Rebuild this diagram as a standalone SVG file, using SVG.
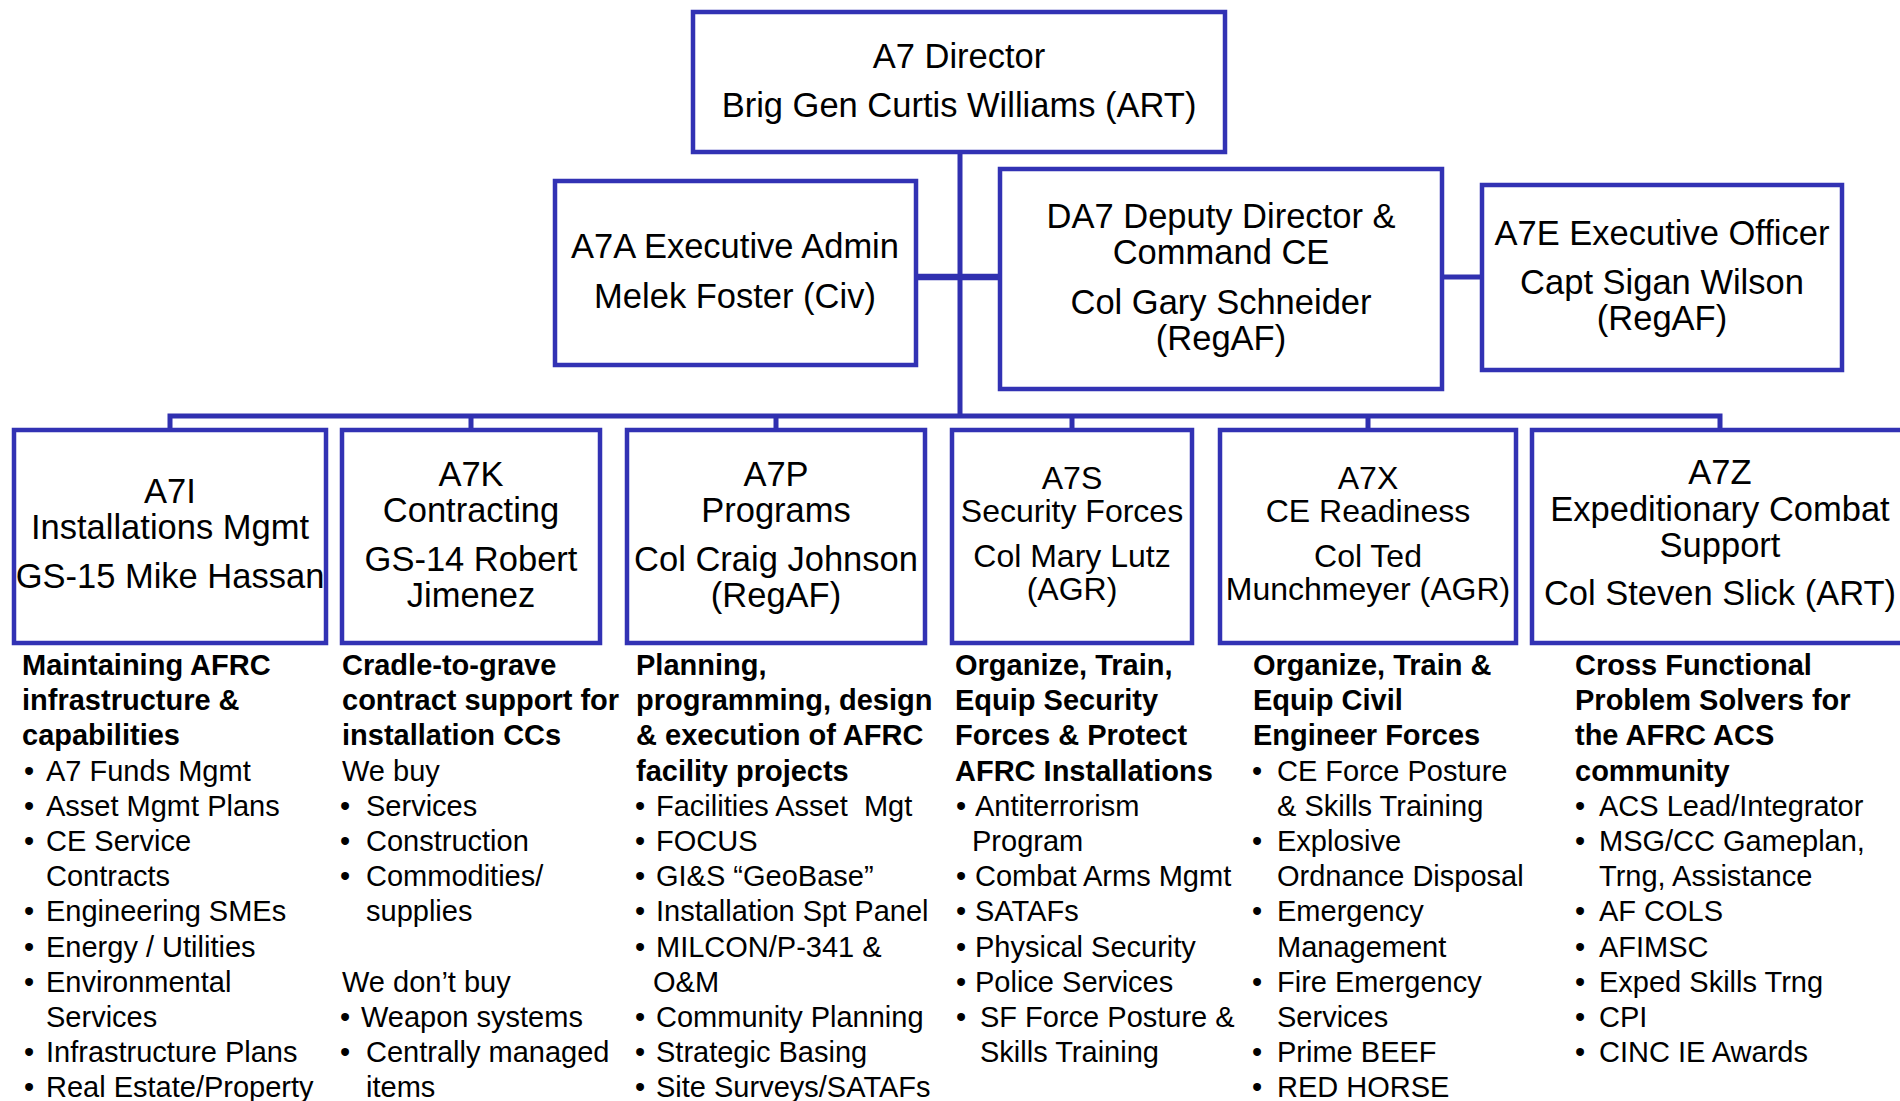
<svg xmlns="http://www.w3.org/2000/svg" width="1900" height="1101" viewBox="0 0 1900 1101">
<style>
.box{fill:#fff;stroke:#3232B4;stroke-width:4.5}
.con{fill:none;stroke:#3030B0;stroke-width:5}
.t{font-family:"Liberation Sans",Arial,sans-serif;font-size:34.5px;fill:#000;text-anchor:middle}
.ts{font-family:"Liberation Sans",Arial,sans-serif;font-size:32px;fill:#000;text-anchor:middle}
.d{font-family:"Liberation Sans",Arial,sans-serif;font-size:29px;fill:#000}
.h{font-weight:bold}
</style>
<rect width="1900" height="1101" fill="#fff"/>
<g id="connectors">
<path class="con" d="M960 152V416"/>
<path class="con" style="stroke-width:6.5" d="M916 277H1000"/>
<path class="con" d="M1442 277H1482"/>
<path class="con" d="M170 430V416H1720V430M471 416V430M776 416V430M1072 416V430M1368 416V430"/>
</g>
<g id="a7-director">
<rect class="box" x="693" y="12" width="532" height="140"/>
<text class="t" x="959" y="68">A7 Director</text>
<text class="t" x="959" y="117">Brig Gen Curtis Williams (ART)</text>
</g>
<g id="a7a">
<rect class="box" x="555" y="181" width="361" height="184"/>
<text class="t" x="735" y="258">A7A Executive Admin</text>
<text class="t" x="735" y="308">Melek Foster (Civ)</text>
</g>
<g id="da7">
<rect class="box" x="1000" y="169" width="442" height="220"/>
<text class="t" x="1221" y="228">DA7 Deputy Director &amp;</text>
<text class="t" x="1221" y="264">Command CE</text>
<text class="t" x="1221" y="314">Col Gary Schneider</text>
<text class="t" x="1221" y="350">(RegAF)</text>
</g>
<g id="a7e">
<rect class="box" x="1482" y="185" width="360" height="185"/>
<text class="t" x="1662" y="245">A7E Executive Officer</text>
<text class="t" x="1662" y="294">Capt Sigan Wilson</text>
<text class="t" x="1662" y="330">(RegAF)</text>
</g>
<g id="a7i">
<rect class="box" x="14" y="430" width="312" height="213"/>
<text class="t" x="170" y="503">A7I</text>
<text class="t" x="170" y="539">Installations Mgmt</text>
<text class="t" x="170" y="588">GS-15 Mike Hassan</text>
<g class="d">
<text class="h" x="22" y="675">Maintaining AFRC</text>
<text class="h" x="22" y="710">infrastructure &amp;</text>
<text class="h" x="22" y="745">capabilities</text>
<text y="781"><tspan x="24">•</tspan><tspan x="46">A7 Funds Mgmt</tspan></text>
<text y="816"><tspan x="24">•</tspan><tspan x="46">Asset Mgmt Plans</tspan></text>
<text y="851"><tspan x="24">•</tspan><tspan x="46">CE Service</tspan></text>
<text x="46" y="886">Contracts</text>
<text y="921"><tspan x="24">•</tspan><tspan x="46">Engineering SMEs</tspan></text>
<text y="957"><tspan x="24">•</tspan><tspan x="46">Energy / Utilities</tspan></text>
<text y="992"><tspan x="24">•</tspan><tspan x="46">Environmental</tspan></text>
<text x="46" y="1027">Services</text>
<text y="1062"><tspan x="24">•</tspan><tspan x="46">Infrastructure Plans</tspan></text>
<text y="1097"><tspan x="24">•</tspan><tspan x="46">Real Estate/Property</tspan></text>
</g>
</g>
<g id="a7k">
<rect class="box" x="342" y="430" width="258" height="213"/>
<text class="t" x="471" y="486">A7K</text>
<text class="t" x="471" y="522">Contracting</text>
<text class="t" x="471" y="571">GS-14 Robert</text>
<text class="t" x="471" y="607">Jimenez</text>
<g class="d">
<text class="h" x="342" y="675">Cradle-to-grave</text>
<text class="h" x="342" y="710">contract support for</text>
<text class="h" x="342" y="745">installation CCs</text>
<text x="342" y="781">We buy</text>
<text y="816"><tspan x="340">•</tspan><tspan x="366">Services</tspan></text>
<text y="851"><tspan x="340">•</tspan><tspan x="366">Construction</tspan></text>
<text y="886"><tspan x="340">•</tspan><tspan x="366">Commodities/</tspan></text>
<text x="366" y="921">supplies</text>
<text x="342" y="992">We don’t buy</text>
<text y="1027"><tspan x="340">•</tspan><tspan x="361">Weapon systems</tspan></text>
<text y="1062"><tspan x="340">•</tspan><tspan x="366">Centrally managed</tspan></text>
<text x="366" y="1097">items</text>
</g>
</g>
<g id="a7p">
<rect class="box" x="627" y="430" width="298" height="213"/>
<text class="t" x="776" y="486">A7P</text>
<text class="t" x="776" y="522">Programs</text>
<text class="t" x="776" y="571">Col Craig Johnson</text>
<text class="t" x="776" y="607">(RegAF)</text>
<g class="d">
<text class="h" x="636" y="675">Planning,</text>
<text class="h" x="636" y="710">programming, design</text>
<text class="h" x="636" y="745">&amp; execution of AFRC</text>
<text class="h" x="636" y="781">facility projects</text>
<text y="816" style="white-space:pre"><tspan x="635">•</tspan><tspan x="656">Facilities Asset  Mgt</tspan></text>
<text y="851"><tspan x="635">•</tspan><tspan x="656">FOCUS</tspan></text>
<text y="886"><tspan x="635">•</tspan><tspan x="656">GI&amp;S “GeoBase”</tspan></text>
<text y="921"><tspan x="635">•</tspan><tspan x="656">Installation Spt Panel</tspan></text>
<text y="957"><tspan x="635">•</tspan><tspan x="656">MILCON/P-341 &amp;</tspan></text>
<text x="653" y="992">O&amp;M</text>
<text y="1027"><tspan x="635">•</tspan><tspan x="656">Community Planning</tspan></text>
<text y="1062"><tspan x="635">•</tspan><tspan x="656">Strategic Basing</tspan></text>
<text y="1097"><tspan x="635">•</tspan><tspan x="656">Site Surveys/SATAFs</tspan></text>
</g>
</g>
<g id="a7s">
<rect class="box" x="952" y="430" width="240" height="213"/>
<text class="ts" x="1072" y="489">A7S</text>
<text class="ts" x="1072" y="522">Security Forces</text>
<text class="ts" x="1072" y="567">Col Mary Lutz</text>
<text class="ts" x="1072" y="600">(AGR)</text>
<g class="d">
<text class="h" x="955" y="675">Organize, Train,</text>
<text class="h" x="955" y="710">Equip Security</text>
<text class="h" x="955" y="745">Forces &amp; Protect</text>
<text class="h" x="955" y="781">AFRC Installations</text>
<text y="816"><tspan x="956">•</tspan><tspan x="975">Antiterrorism</tspan></text>
<text x="972" y="851">Program</text>
<text y="886"><tspan x="956">•</tspan><tspan x="975">Combat Arms Mgmt</tspan></text>
<text y="921"><tspan x="956">•</tspan><tspan x="975">SATAFs</tspan></text>
<text y="957"><tspan x="956">•</tspan><tspan x="975">Physical Security</tspan></text>
<text y="992"><tspan x="956">•</tspan><tspan x="975">Police Services</tspan></text>
<text y="1027"><tspan x="956">•</tspan><tspan x="980">SF Force Posture &amp;</tspan></text>
<text x="980" y="1062">Skills Training</text>
</g>
</g>
<g id="a7x">
<rect class="box" x="1220" y="430" width="296" height="213"/>
<text class="ts" x="1368" y="489">A7X</text>
<text class="ts" x="1368" y="522">CE Readiness</text>
<text class="ts" x="1368" y="567">Col Ted</text>
<text class="ts" x="1368" y="600">Munchmeyer (AGR)</text>
<g class="d">
<text class="h" x="1253" y="675">Organize, Train &amp;</text>
<text class="h" x="1253" y="710">Equip Civil</text>
<text class="h" x="1253" y="745">Engineer Forces</text>
<text y="781"><tspan x="1252">•</tspan><tspan x="1277">CE Force Posture</tspan></text>
<text x="1277" y="816">&amp; Skills Training</text>
<text y="851"><tspan x="1252">•</tspan><tspan x="1277">Explosive</tspan></text>
<text x="1277" y="886">Ordnance Disposal</text>
<text y="921"><tspan x="1252">•</tspan><tspan x="1277">Emergency</tspan></text>
<text x="1277" y="957">Management</text>
<text y="992"><tspan x="1252">•</tspan><tspan x="1277">Fire Emergency</tspan></text>
<text x="1277" y="1027">Services</text>
<text y="1062"><tspan x="1252">•</tspan><tspan x="1277">Prime BEEF</tspan></text>
<text y="1097"><tspan x="1252">•</tspan><tspan x="1277">RED HORSE</tspan></text>
</g>
</g>
<g id="a7z">
<rect class="box" x="1532" y="430" width="378" height="213"/>
<text class="t" x="1720" y="484">A7Z</text>
<text class="t" x="1720" y="521">Expeditionary Combat</text>
<text class="t" x="1720" y="557">Support</text>
<text class="t" x="1720" y="605">Col Steven Slick (ART)</text>
<g class="d">
<text class="h" x="1575" y="675">Cross Functional</text>
<text class="h" x="1575" y="710">Problem Solvers for</text>
<text class="h" x="1575" y="745">the AFRC ACS</text>
<text class="h" x="1575" y="781">community</text>
<text y="816"><tspan x="1575">•</tspan><tspan x="1599">ACS Lead/Integrator</tspan></text>
<text y="851"><tspan x="1575">•</tspan><tspan x="1599">MSG/CC Gameplan,</tspan></text>
<text x="1599" y="886">Trng, Assistance</text>
<text y="921"><tspan x="1575">•</tspan><tspan x="1599">AF COLS</tspan></text>
<text y="957"><tspan x="1575">•</tspan><tspan x="1599">AFIMSC</tspan></text>
<text y="992"><tspan x="1575">•</tspan><tspan x="1599">Exped Skills Trng</tspan></text>
<text y="1027"><tspan x="1575">•</tspan><tspan x="1599">CPI</tspan></text>
<text y="1062"><tspan x="1575">•</tspan><tspan x="1599">CINC IE Awards</tspan></text>
</g>
</g>
</svg>
